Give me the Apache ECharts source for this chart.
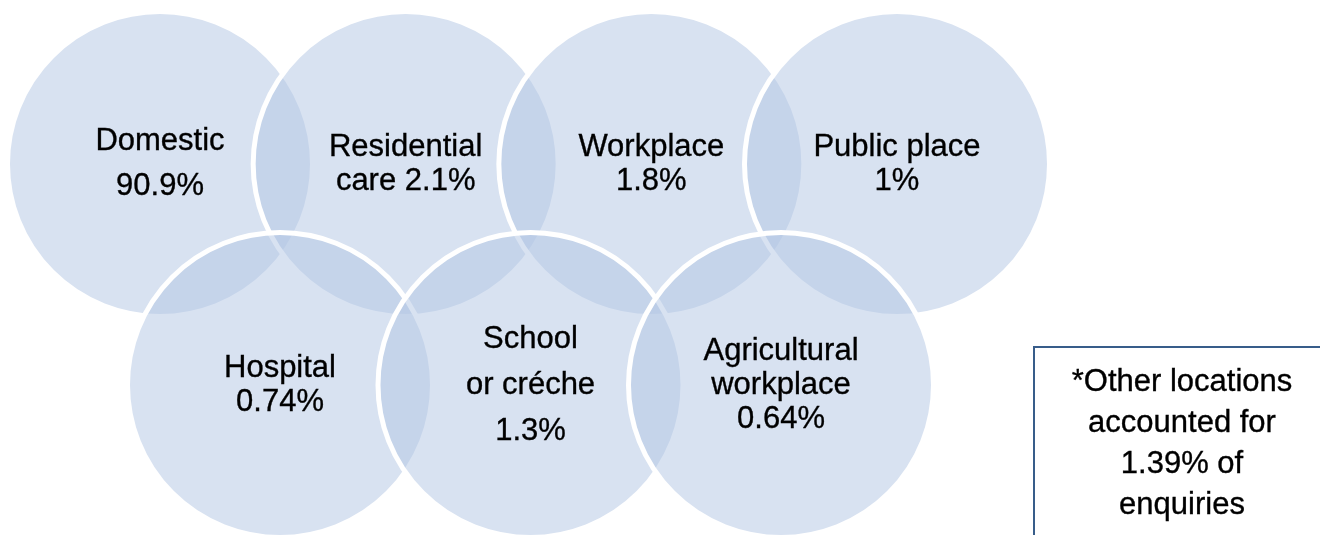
<!DOCTYPE html>
<html>
<head>
<meta charset="utf-8">
<script src="https://cdn.jsdelivr.net/npm/echarts@6/dist/echarts.min.js"></script>
<style>
html,body{margin:0;padding:0;background:#fff;}
#chart{width:1320px;height:535px;}
</style>
</head>
<body>
<div id="chart"></div>
<script>
// ---- data ----
const topLocations = ['Domestic', 'Residential\ncare', 'Workplace', 'Public place'];
const topShares = [90.9, 2.1, 1.8, 1];
const bottomLocations = ['Hospital', 'School\nor créche', 'Agricultural\nworkplace'];
const bottomShares = [0.74, 1.3, 0.64];
const otherShare = 1.39;

// ---- helpers ----
const FONT = "'Liberation Sans', Arial, sans-serif";
function labelText(name, v) {
  if (name === 'Residential\ncare') return name + ' ' + v + '%';
  return name + '\n' + v + '%';
}
function lineHeightFor(name) {
  if (name === 'Domestic') return 45;
  if (name === 'School\nor créche') return 46;
  return 34;
}
function buildData(names, values) {
  return names.map((n, i) => ({
    name: n,
    value: [i, 0.5, values[i]],
    label: { lineHeight: lineHeightFor(n) }
  }));
}

const circleStyle = {
  color: 'rgba(180,200,228,0.52)',
  borderColor: '#ffffff',
  borderWidth: 5,
  opacity: 1
};
const labelStyle = {
  show: true,
  position: 'inside',
  color: '#000000',
  opacity: 1,
  textBorderColor: '#000000',
  textBorderWidth: 0.35,
  fontFamily: FONT,
  fontSize: 31,
  align: 'center',
  formatter: p => labelText(p.name, p.value[2])
};

const chart = echarts.init(document.getElementById('chart'), null, { renderer: 'canvas' });
chart.setOption({
  animation: false,
  backgroundColor: '#ffffff',
  grid: [
    { left: 160, right: 423, top: 114, height: 100 },
    { left: 280, right: 539, top: 335, height: 100 }
  ],
  xAxis: [
    { type: 'value', gridIndex: 0, min: 0, max: topLocations.length - 1, show: false },
    { type: 'value', gridIndex: 1, min: 0, max: bottomLocations.length - 1, show: false }
  ],
  yAxis: [
    { type: 'value', gridIndex: 0, min: 0, max: 1, show: false },
    { type: 'value', gridIndex: 1, min: 0, max: 1, show: false }
  ],
  series: [
    {
      type: 'scatter', xAxisIndex: 0, yAxisIndex: 0, clip: false,
      symbol: 'circle', symbolSize: 305,
      itemStyle: circleStyle, label: labelStyle,
      emphasis: { disabled: true },
      data: buildData(topLocations, topShares)
    },
    {
      type: 'scatter', xAxisIndex: 1, yAxisIndex: 1, clip: false,
      symbol: 'circle', symbolSize: 305,
      itemStyle: circleStyle, label: labelStyle,
      emphasis: { disabled: true },
      data: buildData(bottomLocations, bottomShares)
    }
  ],
  graphic: [
    {
      type: 'rect', z: 100,
      shape: { x: 1034, y: 347, width: 300, height: 200 },
      style: { fill: '#ffffff', stroke: '#385D8A', lineWidth: 2 }
    },
    {
      type: 'text', z: 101,
      x: 1182, y: 362,
      style: {
        text: '*Other locations\naccounted for\n' + otherShare + '% of\nenquiries',
        align: 'center', verticalAlign: 'top',
        fill: '#000', stroke: '#000', lineWidth: 0.35,
        fontSize: 31, fontFamily: FONT, lineHeight: 41
      }
    }
  ]
});
</script>
</body>
</html>
